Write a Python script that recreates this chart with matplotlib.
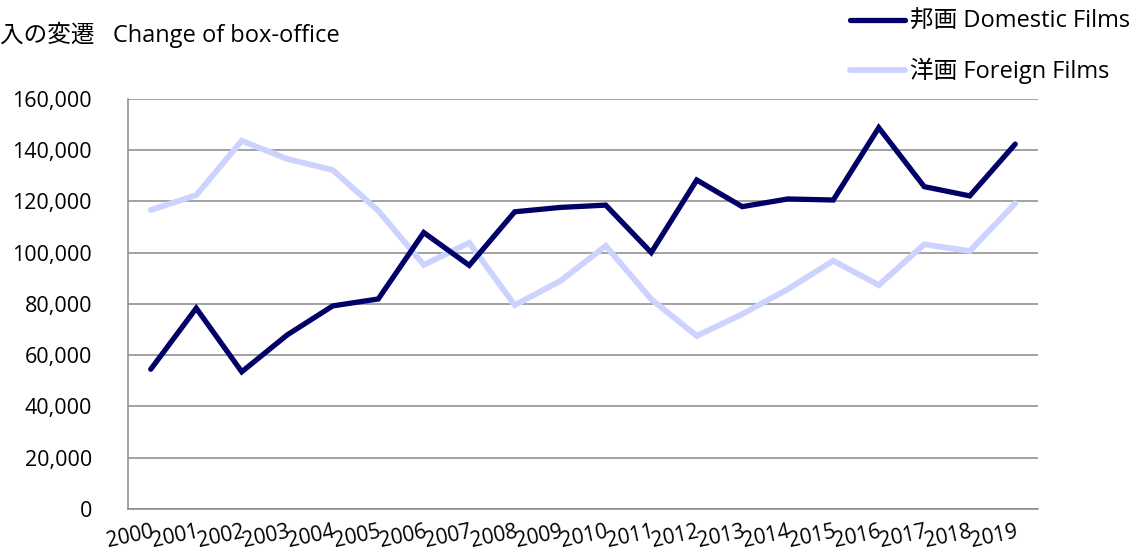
import numpy as np
import matplotlib
matplotlib.use("Agg")
import matplotlib.pyplot as plt

plt.rcParams['font.family'] = ['Open Sans', 'Noto Sans CJK JP', 'DejaVu Sans']

years = [str(y) for y in range(2000, 2020)]
domestic = [54500, 78300, 53500, 67900, 79200, 81900, 107800, 95000, 115900, 117600,
            118500, 100000, 128300, 117900, 120900, 120500, 148700, 125700, 122100, 142300]
foreign = [116600, 122400, 143600, 136500, 132200, 116300, 95200, 103800, 79500, 88900,
           102600, 81800, 67500, 76000, 85700, 96800, 87300, 103200, 100600, 119200]

fig = plt.figure(figsize=(11.31, 5.56), dpi=100)
ax = fig.add_axes([128/1131, 1 - 509/556, (1038 - 128)/1131, (509 - 98.7)/556])

x = np.arange(len(years))
ax.plot(x, domestic, color='#000066', lw=3.8, solid_capstyle='round', solid_joinstyle='miter',
        label='邦画 Domestic Films', zorder=3)
ax.plot(x, foreign, color='#ccd3ff', lw=4.2, solid_capstyle='round', solid_joinstyle='miter',
        label='洋画 Foreign Films', zorder=2)

ax.set_xlim(-0.5, len(years) - 0.5)
ax.set_ylim(0, 160000)
ax.set_yticks(np.arange(0, 160001, 20000))
ax.set_yticklabels([f'{v:,}' for v in range(0, 160001, 20000)], fontsize=15.5)
ax.set_xticks(x)
ax.set_xticklabels(years, fontsize=15, rotation=12, ha='right', va='top', rotation_mode='anchor')
ax.tick_params(axis='y', length=0, pad=26)
ax.tick_params(axis='x', length=0, pad=9)

ax.grid(axis='y', color='#898989', lw=1.1)
ax.set_axisbelow(True)
for s in ['top', 'right']:
    ax.spines[s].set_visible(False)
for s in ['left', 'bottom']:
    ax.spines[s].set_color('#898989')
    ax.spines[s].set_linewidth(1.1)

# title is cut off at the left edge in the original
fig.text(0, 1 - 35/556, '入の変遷   Change of box-office', fontsize=17, va='center', ha='left')

fig.legend(loc='upper right', bbox_to_anchor=(1130/1131, 1 - 10/556), frameon=False,
           fontsize=17, handlelength=2.33, handletextpad=0.2, labelspacing=1.02,
           borderpad=0, borderaxespad=0)

fig.savefig('out.png', dpi=100)
